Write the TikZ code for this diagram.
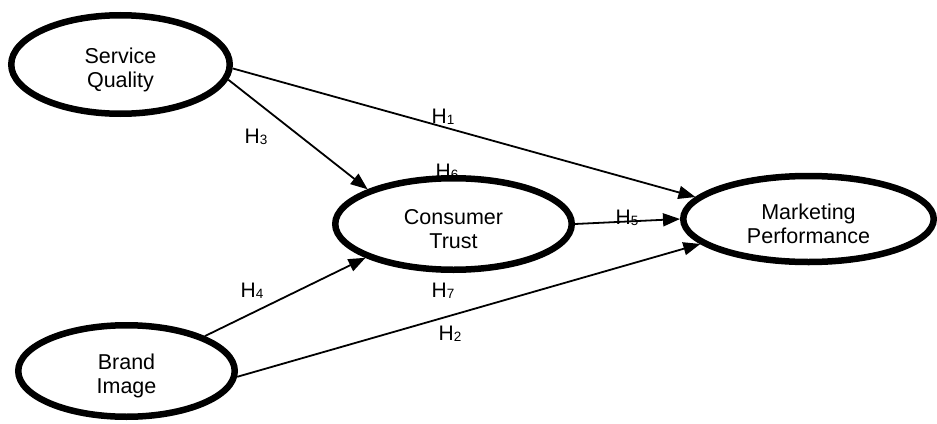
\documentclass[tikz,border=0pt]{standalone}
\usepackage{fontspec}
\setmainfont{Liberation Sans}
\usetikzlibrary{shapes.geometric,arrows.meta}
\tikzset{
  construct/.style={ellipse, draw=black, line width=6.5pt, inner sep=0pt, align=center,
    font=\fontsize{21.5}{24}\selectfont},
  path arrow/.style={line width=1.8pt, -{Triangle[length=17pt,width=13pt]}},
  hlabel/.style={inner sep=0pt, anchor=base west, font=\fontsize{21}{24}\selectfont}
}
\newcommand{\hyp}[1]{H{\fontsize{13.5}{13.5}\selectfont\raisebox{-1pt}{#1}}}
\newcommand{\toprule}{\rule{0pt}{26pt}}
\begin{document}
\begin{tikzpicture}[x=1pt,y=-1pt]
\useasboundingbox[fill=white] (0,0) rectangle (937,423);
\node[construct, minimum width=218.5pt, minimum height=98.5pt] (sq) at (120.5,64.5) {\toprule Service\\Quality};
\node[construct, minimum width=236.5pt, minimum height=91.5pt] (ct) at (453.5,224) {\toprule Consumer\\Trust};
\node[construct, minimum width=250.5pt, minimum height=86pt] (mp) at (808.5,219) {\toprule Marketing\\Performance};
\node[construct, minimum width=216.5pt, minimum height=91.5pt] (bi) at (126.5,371) {\toprule Brand\\Image};

\draw[path arrow] (sq.-2) -- (mp.169);
\draw[path arrow] (sq.-8) -- (ct.158);
\draw[path arrow] (ct.east) -- (mp.west);
\draw[path arrow] (bi.24) -- (ct.201);
\draw[path arrow] (bi.-3) -- (mp.193);

\node[hlabel] (h1) at (431.5,123) {\hyp{1}};
\node[hlabel] (h3) at (244.5,143) {\hyp{3}};
\node[hlabel] (h6) at (435.5,178) {\hyp{6}};
\node[hlabel] (h5) at (615.5,224) {\hyp{5}};
\node[hlabel] (h4) at (240.5,297) {\hyp{4}};
\node[hlabel] (h7) at (431.5,297) {\hyp{7}};
\node[hlabel] (h2) at (438.5,340) {\hyp{2}};
\end{tikzpicture}
\end{document}
